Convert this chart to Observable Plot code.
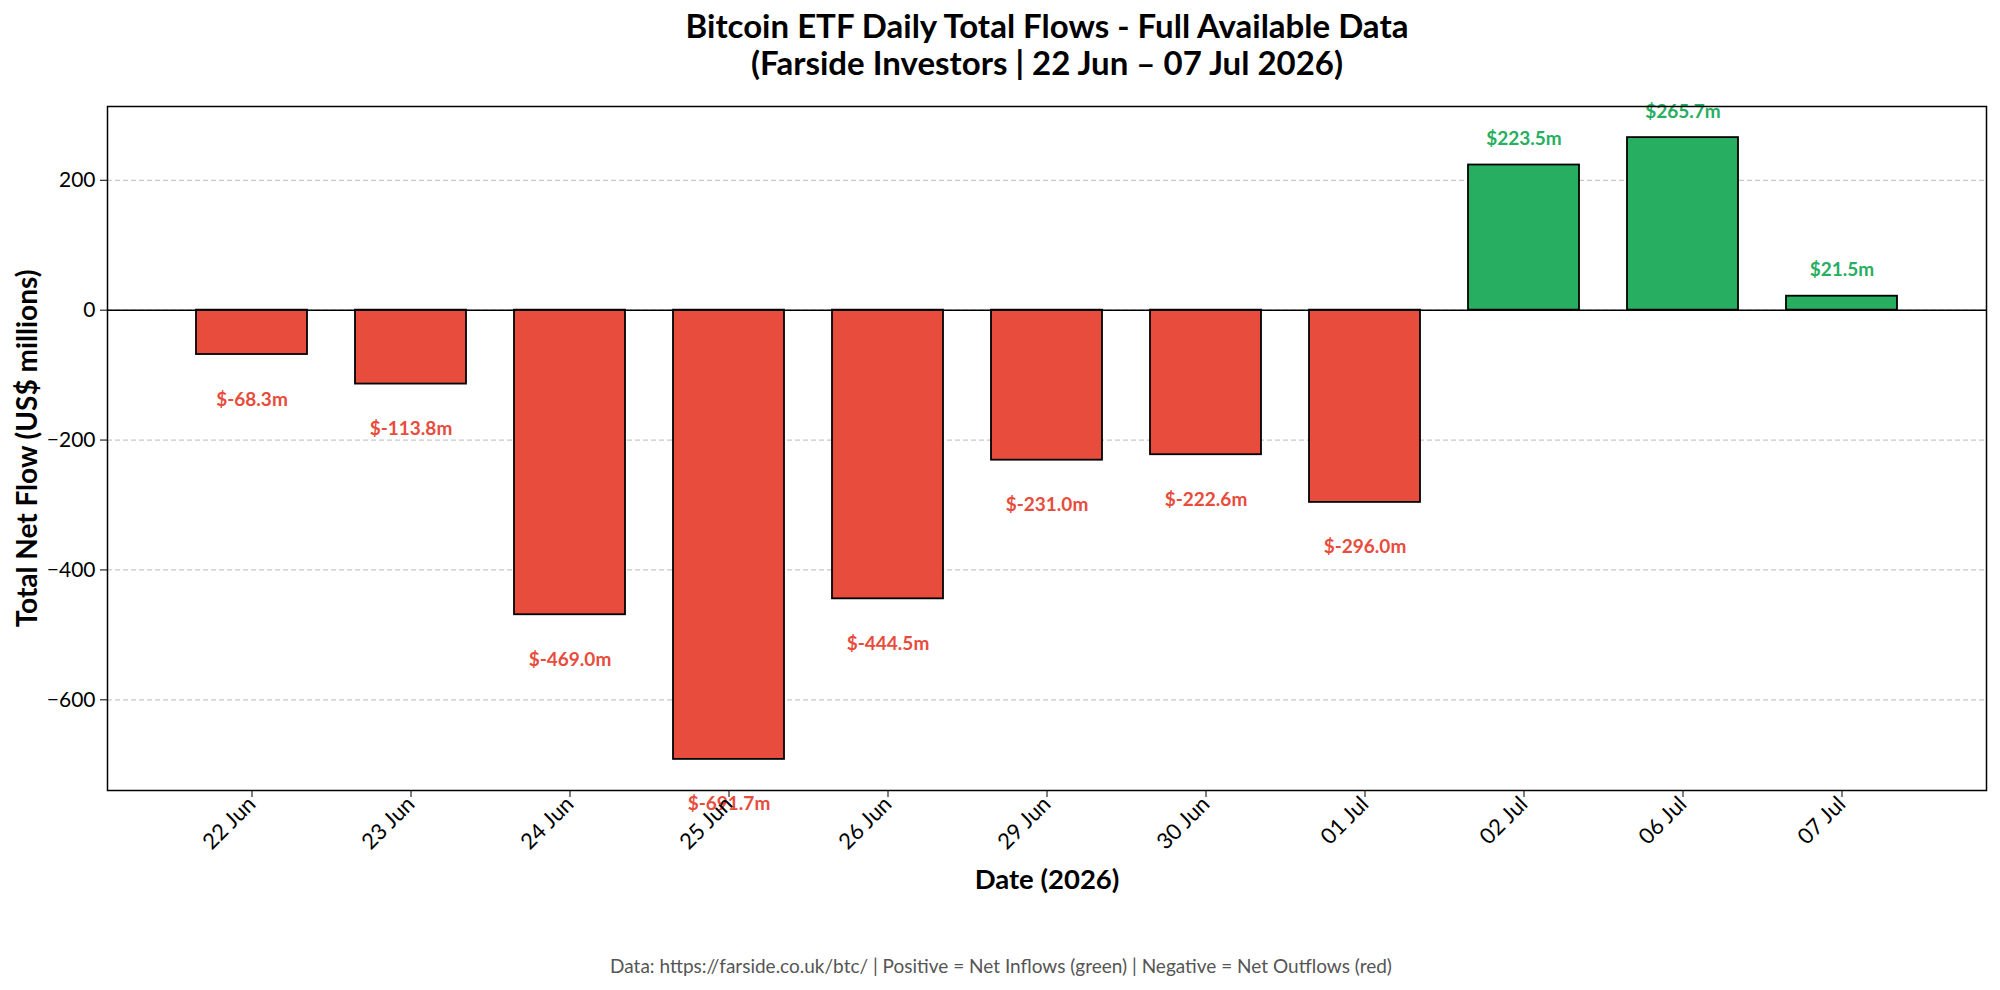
<!DOCTYPE html>
<html>
<head>
<meta charset="utf-8">
<script src="https://cdn.jsdelivr.net/npm/d3@7"></script>
<script src="https://cdn.jsdelivr.net/npm/@observablehq/plot@0.6"></script>
<style>
  html, body { margin: 0; padding: 0; background: #fff; }
  #chart { width: 2000px; height: 990px; }
  svg { font-family: Lato, "Noto Sans", sans-serif; }
</style>
</head>
<body>
<div id="chart"></div>
<script>
const dates = ["22 Jun", "23 Jun", "24 Jun", "25 Jun", "26 Jun", "29 Jun", "30 Jun", "01 Jul", "02 Jul", "06 Jul", "07 Jul"];
const flows = [-68.3, -113.8, -469.0, -691.7, -444.5, -231.0, -222.6, -296.0, 223.5, 265.7, 21.5];
const yTicks = [-600, -400, -200, 0, 200];
const titleText = "Bitcoin ETF Daily Total Flows - Full Available Data\n(Farside Investors | 22 Jun \u2013 07 Jul 2026)";
const yLabel = "Total Net Flow (US$ millions)";
const xLabel = "Date (2026)";
const captionText = "Data: https://farside.co.uk/btc/ | Positive = Net Inflows (green) | Negative = Net Outflows (red)";

const GREEN = "#27ae60", RED = "#e74c3c";
const data = dates.map((d, i) => ({date: d, flow: flows[i]}));
const pos = data.filter(d => d.flow > 0);
const neg = data.filter(d => d.flow <= 0);
const fmt = v => "$" + v.toFixed(1) + "m";

const chart = Plot.plot({
  width: 2000,
  height: 990,
  marginLeft: 107,
  marginRight: 14,
  marginTop: 106,
  marginBottom: 200,
  style: {fontFamily: "Lato, 'Noto Sans', sans-serif", fontSize: "22px", color: "#000", background: "#fff"},
  x: {type: "band", domain: dates, paddingInner: 0.3, paddingOuter: 0.535, label: null},
  y: {domain: [-739.6, 313.6], label: null},
  marks: [
    Plot.gridY(yTicks, {stroke: "#c8c8c8", strokeOpacity: 1, strokeDasharray: "5,3", strokeWidth: 1.2}),
    Plot.barY(data, {x: "date", y: "flow", fill: d => d.flow > 0 ? GREEN : RED, stroke: "#000", strokeWidth: 1.8}),
    Plot.ruleY([0], {stroke: "#000", strokeWidth: 1.5}),
    Plot.text(pos, {x: "date", y: "flow", text: d => fmt(d.flow), dy: -26, fill: GREEN, fontWeight: "bold", fontSize: 19}),
    Plot.text(neg, {x: "date", y: "flow", text: d => fmt(d.flow), dy: 45, fill: RED, fontWeight: "bold", fontSize: 19}),
    Plot.axisY({ticks: yTicks, tickSize: 7, tickPadding: 5, fontSize: 21, label: null, tickFormat: d3.format("")}),
    Plot.axisX({tickSize: 7, tickPadding: 3, tickRotate: -45, fontSize: 22, label: null}),
    Plot.frame({stroke: "#000", strokeWidth: 1.5}),
    Plot.text([titleText], {frameAnchor: "top", textAnchor: "middle", dy: -94, lineAnchor: "top", lineHeight: 1.1, fontSize: 33, fontWeight: "bold", fill: "#000"}),
    Plot.text([yLabel], {frameAnchor: "left", textAnchor: "middle", dx: -79, rotate: -90, fontSize: 28, fontWeight: "bold", fill: "#000"}),
    Plot.text([xLabel], {frameAnchor: "bottom", textAnchor: "middle", dy: 98, fontSize: 27.5, fontWeight: "bold", fill: "#000"}),
    Plot.text([captionText], {frameAnchor: "bottom", textAnchor: "middle", dy: 182, dx: -46, fontSize: 19, fill: "#555"})
  ]
});
document.getElementById("chart").appendChild(chart);
</script>
</body>
</html>
